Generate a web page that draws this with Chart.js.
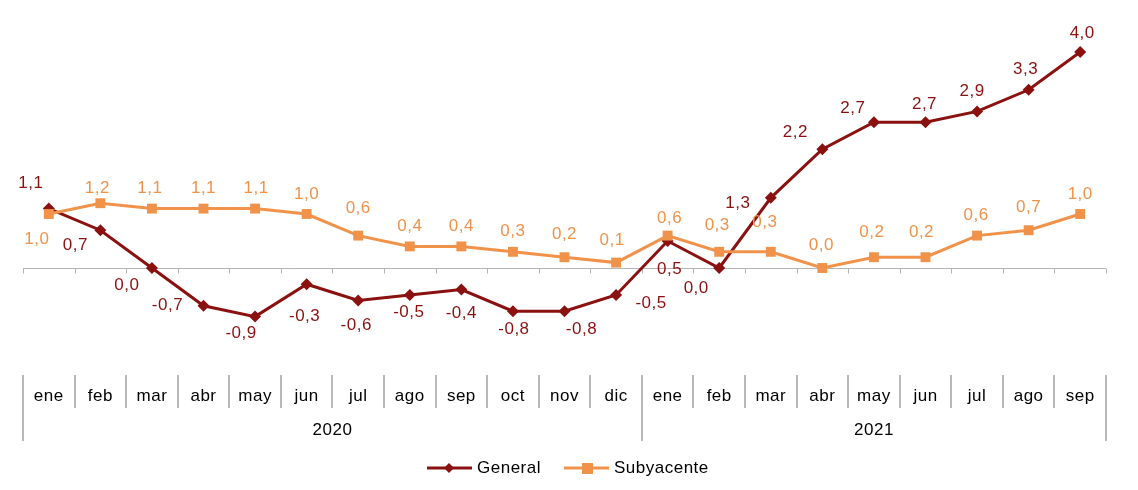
<!DOCTYPE html>
<html>
<head>
<meta charset="utf-8">
<script src="https://cdn.jsdelivr.net/npm/chart.js@4/dist/chart.umd.min.js"></script>
<style>
  body { margin: 0; background: #fff; }
</style>
</head>
<body>
<canvas id="myChart" width="1138" height="490"></canvas>
<script>
var months = ['ene', 'feb', 'mar', 'abr', 'may', 'jun', 'jul', 'ago', 'sep', 'oct', 'nov', 'dic',
              'ene', 'feb', 'mar', 'abr', 'may', 'jun', 'jul', 'ago', 'sep'];
var years = ['2020', '2021'];
var yearStart = [0, 12];
var general = [1.1, 0.7, 0.0, -0.7, -0.9, -0.3, -0.6, -0.5, -0.4, -0.8, -0.8, -0.5,
               0.5, 0.0, 1.3, 2.2, 2.7, 2.7, 2.9, 3.3, 4.0];
var subyacente = [1.0, 1.2, 1.1, 1.1, 1.1, 1.0, 0.6, 0.4, 0.4, 0.3, 0.2, 0.1,
                  0.6, 0.3, 0.3, 0.0, 0.2, 0.2, 0.6, 0.7, 1.0];

var colGeneral = '#8B1111';
var colSub = '#F0924A';
var font = '17px "Liberation Sans", Arial, sans-serif';

// label offsets (dx, dy) from each point
var genOffsets = [[-18, -25], [-25, 15], [-25, 17], [-36, 0], [-14, 17], [-2, 32], [-2, 25], [-1, 17], [0, 24],
                  [1, 18], [17, 18], [35, 8], [2, 28], [-23, 20], [-33, 6], [-27, -17], [-21, -14], [-1, -18],
                  [-5, -20], [-3, -20], [2, -19]];
var subOffsets = [[-12, 25], [-3, -15], [-2, -20], [0, -20], [1, -20], [0, -20], [0, -27], [0, -20], [0, -20],
                  [0, -20], [0, -23], [-4, -22], [2, -17], [-2, -26], [-6, -29], [-1, -23], [-2, -25], [-4, -25],
                  [-1, -20], [0, -23], [0, -20]];

function fmt(v) {
    return v.toFixed(1).replace('.', ',');
}

var extras = {
    id: 'extras',
    beforeDatasetsDraw: function (chart) {
        var c = chart.ctx;
        var y = chart.scales.y;
        var area = chart.chartArea;
        var step = (area.right - area.left) / months.length;
        var y0 = Math.round(y.getPixelForValue(0)) + 0.5;
        c.save();
        c.strokeStyle = '#b4b4b4';
        c.lineWidth = 1;
        c.beginPath();
        c.moveTo(area.left, y0);
        c.lineTo(area.right, y0);
        for (var i = 0; i <= months.length; i++) {
            var px = Math.round(area.left + i * step) + 0.5;
            c.moveTo(px, y0);
            c.lineTo(px, y0 + 5);
        }
        c.stroke();
        c.restore();
    },
    afterDatasetsDraw: function (chart) {
        var c = chart.ctx;
        var area = chart.chartArea;
        var step = (area.right - area.left) / months.length;
        c.save();
        c.font = font;
        c.letterSpacing = '0.5px';
        c.textAlign = 'center';
        c.textBaseline = 'middle';

        // point labels
        var sets = [[0, general, genOffsets, colGeneral], [1, subyacente, subOffsets, colSub]];
        sets.forEach(function (s) {
            var meta = chart.getDatasetMeta(s[0]);
            meta.data.forEach(function (pt, i) {
                c.fillStyle = s[3];
                c.fillText(fmt(s[1][i]), pt.x + s[2][i][0], pt.y + s[2][i][1]);
            });
        });

        // category table
        c.strokeStyle = '#b8b8b8';
        c.lineWidth = 2;
        c.beginPath();
        for (var i = 0; i <= months.length; i++) {
            var px = Math.round(area.left + i * step);
            var bottom = (yearStart.indexOf(i) >= 0 || i === months.length) ? 441 : 408;
            c.moveTo(px, 375);
            c.lineTo(px, bottom);
        }
        c.stroke();
        c.fillStyle = '#000';
        months.forEach(function (m, i) {
            c.fillText(m, area.left + (i + 0.5) * step, 396);
        });
        years.forEach(function (yr, k) {
            var s0 = yearStart[k];
            var s1 = k + 1 < yearStart.length ? yearStart[k + 1] : months.length;
            c.fillText(yr, area.left + (s0 + s1) / 2 * step, 430);
        });

        // legend
        c.textAlign = 'left';
        c.lineWidth = 3;
        c.strokeStyle = colGeneral;
        c.beginPath();
        c.moveTo(427, 468);
        c.lineTo(472, 468);
        c.stroke();
        c.fillStyle = colGeneral;
        c.beginPath();
        c.moveTo(449, 463);
        c.lineTo(454, 468);
        c.lineTo(449, 473);
        c.lineTo(444, 468);
        c.closePath();
        c.fill();
        c.fillStyle = '#000';
        c.fillText('General', 477, 468);

        c.strokeStyle = colSub;
        c.beginPath();
        c.moveTo(564, 468);
        c.lineTo(609, 468);
        c.stroke();
        c.fillStyle = colSub;
        c.fillRect(582, 463, 11, 11);
        c.fillStyle = '#000';
        c.fillText('Subyacente', 614, 468);
        c.restore();
    }
};

var ctx = document.getElementById('myChart').getContext('2d');
var myChart = new Chart(ctx, {
    type: 'line',
    data: {
        labels: months,
        datasets: [
            {
                label: 'General',
                data: general,
                borderColor: colGeneral,
                backgroundColor: colGeneral,
                borderWidth: 3,
                pointStyle: 'rectRot',
                pointRadius: 6,
                pointBorderWidth: 0,
                fill: false,
                tension: 0,
                order: 2
            },
            {
                label: 'Subyacente',
                data: subyacente,
                borderColor: colSub,
                backgroundColor: colSub,
                borderWidth: 3,
                pointStyle: 'rect',
                pointRadius: 7,
                pointBorderWidth: 0,
                fill: false,
                tension: 0,
                order: 1
            }
        ]
    },
    options: {
        responsive: false,
        animation: false,
        layout: { padding: { left: 23, right: 32, top: 25, bottom: 114 } },
        plugins: {
            legend: { display: false },
            tooltip: { enabled: false }
        },
        scales: {
            x: { display: false, offset: true },
            y: { display: false, min: -2, max: 4.5 }
        }
    },
    plugins: [extras]
});
</script>
</body>
</html>
